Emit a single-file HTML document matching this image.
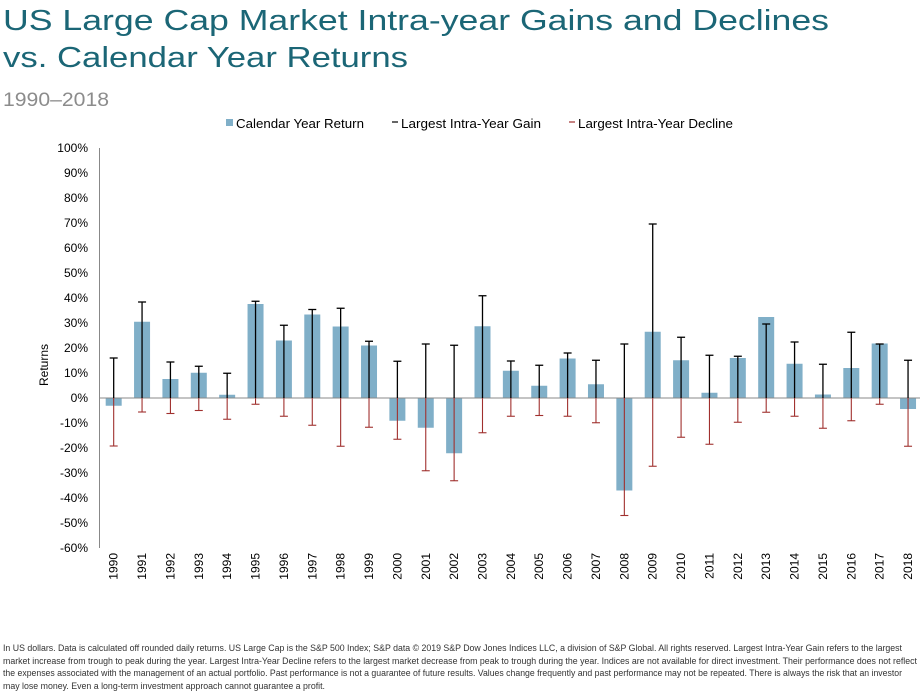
<!DOCTYPE html>
<html><head><meta charset="utf-8"><style>
html,body{margin:0;padding:0;background:#fff;}
svg{display:block;font-family:"Liberation Sans",Arial,sans-serif;}
</style></head><body>
<svg id="chart" width="920" height="694" viewBox="0 0 920 694">
  <text x="3" y="30" font-size="29" fill="#1b6676" textLength="826" lengthAdjust="spacingAndGlyphs">US Large Cap Market Intra-year Gains and Declines</text>
  <text x="3" y="67" font-size="29" fill="#1b6676" textLength="405" lengthAdjust="spacingAndGlyphs">vs. Calendar Year Returns</text>
  <text x="3" y="106" font-size="19" fill="#8c8c8c" textLength="106" lengthAdjust="spacingAndGlyphs">1990–2018</text>

  <g>
    <g>
      <rect x="226" y="119" width="7" height="7" fill="#80afc8"/>
      <text x="236" y="128" font-size="12.5" fill="#000" textLength="128" lengthAdjust="spacingAndGlyphs">Calendar Year Return</text>
    </g>
    <g>
      <line x1="392" y1="122" x2="398" y2="122" stroke="#000" stroke-width="1.2"/>
      <text x="401" y="128" font-size="12.5" fill="#000" textLength="140" lengthAdjust="spacingAndGlyphs">Largest Intra-Year Gain</text>
    </g>
    <g>
      <line x1="569" y1="122" x2="575" y2="122" stroke="#a0302e" stroke-width="1.2"/>
      <text x="578" y="128" font-size="12.5" fill="#000" textLength="155" lengthAdjust="spacingAndGlyphs">Largest Intra-Year Decline</text>
    </g>
  </g>

  <text transform="translate(48,365) rotate(-90)" text-anchor="middle" font-size="12" fill="#000">Returns</text>
  <g id="yaxis"></g>
  <g id="bars"></g>
  <g id="errs"></g>
  <g id="xaxis"></g>

  <g font-size="9" fill="#333">
    <text x="3" y="651" textLength="899" lengthAdjust="spacingAndGlyphs">In US dollars. Data is calculated off rounded daily returns. US Large Cap is the S&amp;P 500 Index; S&amp;P data © 2019 S&amp;P Dow Jones Indices LLC, a division of S&amp;P Global. All rights reserved. Largest Intra-Year Gain refers to the largest</text>
    <text x="3" y="664" textLength="914" lengthAdjust="spacingAndGlyphs">market increase from trough to peak during the year. Largest Intra-Year Decline refers to the largest market decrease from peak to trough during the year. Indices are not available for direct investment. Their performance does not reflect</text>
    <text x="3" y="676" textLength="899" lengthAdjust="spacingAndGlyphs">the expenses associated with the management of an actual portfolio. Past performance is not a guarantee of future results. Values change frequently and past performance may not be repeated. There is always the risk that an investor</text>
    <text x="3" y="689" textLength="322" lengthAdjust="spacingAndGlyphs">may lose money. Even a long-term investment approach cannot guarantee a profit.</text>
  </g>
</svg>
<script>
const years = [1990,1991,1992,1993,1994,1995,1996,1997,1998,1999,2000,2001,2002,2003,2004,2005,2006,2007,2008,2009,2010,2011,2012,2013,2014,2015,2016,2017,2018];
const calendarReturns = [-3.1,30.5,7.6,10.1,1.3,37.6,23.0,33.4,28.6,21.0,-9.1,-11.9,-22.1,28.7,10.9,4.9,15.8,5.5,-37.0,26.5,15.1,2.1,16.0,32.4,13.7,1.4,12.0,21.8,-4.4];
const intraGains = [16.0,38.4,14.4,12.7,9.9,38.7,29.1,35.4,35.9,22.7,14.7,21.6,21.1,40.9,14.8,13.1,18.0,15.1,21.6,69.6,24.3,17.1,16.7,29.6,22.4,13.5,26.3,21.6,15.1];
const intraDeclines = [-19.2,-5.6,-6.2,-5.0,-8.5,-2.5,-7.3,-10.9,-19.3,-11.7,-16.5,-29.1,-33.1,-13.9,-7.3,-7.0,-7.3,-9.9,-47.0,-27.3,-15.7,-18.5,-9.7,-5.7,-7.3,-12.1,-9.1,-2.5,-19.3];
const yTicks = [100,90,80,70,60,50,40,30,20,10,0,-10,-20,-30,-40,-50,-60];

const NS = "http://www.w3.org/2000/svg";
const x0 = 99.5, band = 28.37, yTop = 148, yBot = 548, vMax = 100, vMin = -60;
function yScale(v){ return yTop + (vMax - v) / (vMax - vMin) * (yBot - yTop); }
function xCenter(i){ return x0 + (i + 0.5) * band; }
function mk(tag, attrs, parent){ const e = document.createElementNS(NS, tag); for (const k in attrs) e.setAttribute(k, attrs[k]); parent.appendChild(e); return e; }

const yaxis = document.getElementById('yaxis');
yTicks.forEach(t => {
  const tx = mk('text', {x: 88, y: yScale(t) + 4, 'text-anchor': 'end', 'font-size': 12, fill: '#000'}, yaxis);
  tx.textContent = t + '%';
  
  
});
const axl = mk('line', {x1: x0, y1: yTop, x2: x0, y2: yBot, stroke: '#888', 'stroke-width': 1}, yaxis);



const bars = document.getElementById('bars');
calendarReturns.forEach((v, i) => {
  const y1 = yScale(Math.max(v, 0)), y2 = yScale(Math.min(v, 0));
  const r = mk('rect', {x: xCenter(i) - 8, y: y1, width: 16, height: Math.max(y2 - y1, 0.5), fill: '#80afc8'}, bars);
  
  
});
const zl = mk('line', {x1: x0, y1: yScale(0), x2: 920, y2: yScale(0), stroke: '#888', 'stroke-width': 1}, bars);



const errs = document.getElementById('errs');
years.forEach((yr, i) => {
  const cx = xCenter(i), y0 = yScale(0);
  const g = mk('g', {}, errs);
  
  
  const yg = yScale(intraGains[i]);
  mk('line', {x1: cx, y1: y0, x2: cx, y2: yg, stroke: '#000', 'stroke-width': 1.3}, g);
  mk('line', {x1: cx - 4, y1: yg, x2: cx + 4, y2: yg, stroke: '#000', 'stroke-width': 1.3}, g);
  const d = mk('g', {}, errs);
  
  
  const yd = yScale(intraDeclines[i]);
  mk('line', {x1: cx, y1: y0, x2: cx, y2: yd, stroke: '#a0302e', 'stroke-width': 1.1}, d);
  mk('line', {x1: cx - 4, y1: yd, x2: cx + 4, y2: yd, stroke: '#a0302e', 'stroke-width': 1.1}, d);
});

const xaxis = document.getElementById('xaxis');
years.forEach((yr, i) => {
  const cx = xCenter(i);
  const t = mk('text', {transform: 'translate(' + (cx + 4) + ',553) rotate(-90)', 'text-anchor': 'end', 'font-size': 12, fill: '#000'}, xaxis);
  t.textContent = yr;
  
  
});
</script>
</body></html>
